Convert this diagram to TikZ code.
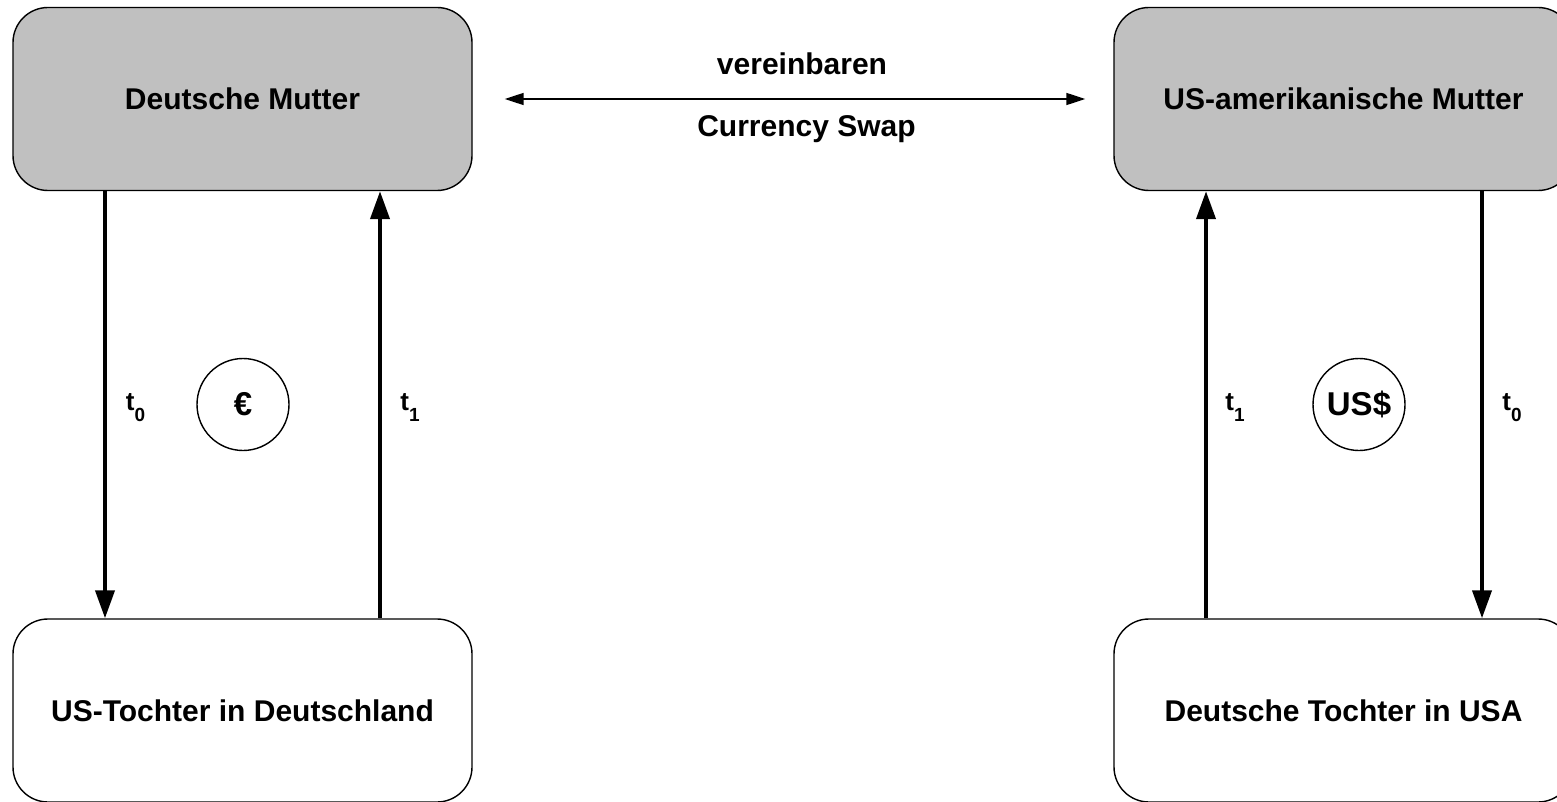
\documentclass[tikz,border=0pt]{standalone}
\usepackage{fontspec}
\setmainfont{Liberation Sans}
\usetikzlibrary{arrows.meta}
\definecolor{boxgray}{HTML}{C0C0C0}
% time index: bold "t" with a lowered digit
\newcommand{\tindex}[1]{\fontsize{13pt}{15pt}\selectfont t\raisebox{-5.5pt}{\fontsize{9.5pt}{11pt}\selectfont #1}}
\begin{document}
\begin{tikzpicture}[x=0.5pt,y=-0.5pt,
  font=\fontsize{15pt}{18pt}\selectfont\bfseries,
  box/.style={draw=black, line width=0.7pt, rounded corners=17.5pt,
    minimum width=229.5pt, minimum height=91.5pt, inner sep=0pt, align=center},
  parent/.style={box, fill=boxgray},
  flow/.style={line width=2pt, -{Triangle[length=14pt,width=9.5pt]}},
  agree/.style={line width=0.75pt,
    {Triangle[length=9.5pt,width=6pt]}-{Triangle[length=9.5pt,width=6pt]}},
  coin/.style={draw=black, circle, line width=0.7pt, minimum size=46pt, inner sep=0pt,
    font=\fontsize{16.5pt}{19pt}\selectfont\bfseries},
  tlabel/.style={inner sep=0pt}
]
\useasboundingbox (0,0) rectangle (1557,802);
\clip (0,0) rectangle (1557,802);

% parent companies
\node[parent] (dm) at (242.5,99) {Deutsche Mutter};
\node[parent] (um) at (1343.5,99) {US-amerikanische Mutter};

% subsidiaries
\node[box] (ut) at (242.5,710.5) {US-Tochter in Deutschland};
\node[box] (dt) at (1343.5,710.5) {Deutsche Tochter in USA};

% swap agreement between the parents
\draw[agree] ([xshift=16pt]dm.east) -- ([xshift=-14pt]um.west);
\node (agr) at (802,64) {vereinbaren};
\node (cs) at (806.5,129) {Currency Swap};

% payment flows
\coordinate (xa) at (105,0);
\coordinate (xb) at (380,0);
\coordinate (xc) at (1206,0);
\coordinate (xd) at (1482,0);
\draw[flow] (dm.south -| xa) -- (ut.north -| xa);
\draw[flow] (ut.north -| xb) -- (dm.south -| xb);
\draw[flow] (dt.north -| xc) -- (um.south -| xc);
\draw[flow] (um.south -| xd) -- (dt.north -| xd);

% currencies
\node[coin] (eur) at (243,404.5) {€};
\node[coin] (usd) at (1359,404.5) {US\$};

% points in time
\node[tlabel] (ta0) at (135.5,408) {\tindex{0}};
\node[tlabel] (ta1) at (410,408) {\tindex{1}};
\node[tlabel] (tb1) at (1235,408) {\tindex{1}};
\node[tlabel] (tb0) at (1512,408) {\tindex{0}};
\end{tikzpicture}
\end{document}
